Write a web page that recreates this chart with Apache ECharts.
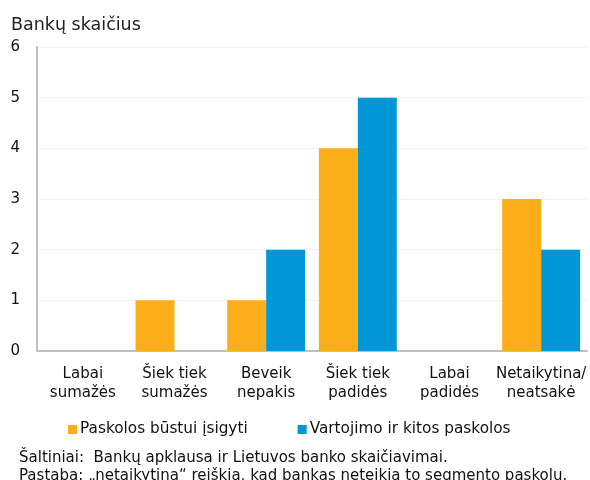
<!DOCTYPE html>
<html><head><meta charset="utf-8">
<script src="https://cdn.jsdelivr.net/npm/echarts@6/dist/echarts.min.js"></script>
<style>html,body{margin:0;padding:0;background:#fff}#c{width:590px;height:480px}</style>
</head><body><div id="c"></div>
<script>
const categories = ["Labai\nsumažės", "Šiek tiek\nsumažės", "Beveik\nnepakis", "Šiek tiek\npadidės", "Labai\npadidės", "Netaikytina/\nneatsakė"];
const seriesNames = ["Paskolos būstui įsigyti", "Vartojimo ir kitos paskolos"];
const housing = [0, 1, 1, 4, 0, 3];
const consumer = [0, 0, 2, 5, 0, 2];
const yTitle = "Bankų skaičius";
const note1 = "Šaltiniai:  Bankų apklausa ir Lietuvos banko skaičiavimai.";
const note2 = "Pastaba: „netaikytina“ reiškia, kad bankas neteikia to segmento paskolų.";
const font = "DejaVu Sans";
const chart = echarts.init(document.getElementById('c'));
chart.setOption({
  animation: false,
  textStyle: {fontFamily: font},
  color: ["#FBAE17", "#0097D6"],
  grid: {left: 37, right: 3, top: 47, bottom: 129},
  title: {text: yTitle, left: 6, top: 11, textStyle: {fontFamily: font, fontSize: 17.5, fontWeight: 'normal', color: '#222'}},
  legend: {data: seriesNames, left: 63, top: 417, itemWidth: 9, itemHeight: 9, icon: 'rect', itemGap: 50,
    textStyle: {fontFamily: font, fontSize: 15.3, color: '#111', padding: [0, 0, 0, -2]}},
  graphic: [
    {type: 'text', left: 19, top: 451, style: {text: note1, font: '15px "DejaVu Sans"', fill: '#111'}},
    {type: 'text', left: 19, top: 469, style: {text: note2, font: '15px "DejaVu Sans"', fill: '#111'}}
  ],
  xAxis: {type: 'category', data: categories,
    axisLine: {lineStyle: {color: '#bfbfbf', width: 2}}, axisTick: {show: false},
    axisLabel: {interval: 0, fontFamily: font, fontSize: 15, color: '#111', lineHeight: 19, margin: 14}},
  yAxis: {type: 'value', min: 0, max: 6, interval: 1,
    axisLine: {show: true, lineStyle: {color: '#bfbfbf', width: 2}}, axisTick: {show: false},
    splitLine: {lineStyle: {color: '#f3f3f3', width: 1}},
    axisLabel: {fontFamily: font, fontSize: 15, color: '#111', margin: 17}},
  series: [
    {name: seriesNames[0], type: 'bar', data: housing, barGap: '0%', barCategoryGap: '15%'},
    {name: seriesNames[1], type: 'bar', data: consumer, barGap: '0%', barCategoryGap: '15%'}
  ]
});
</script></body></html>
